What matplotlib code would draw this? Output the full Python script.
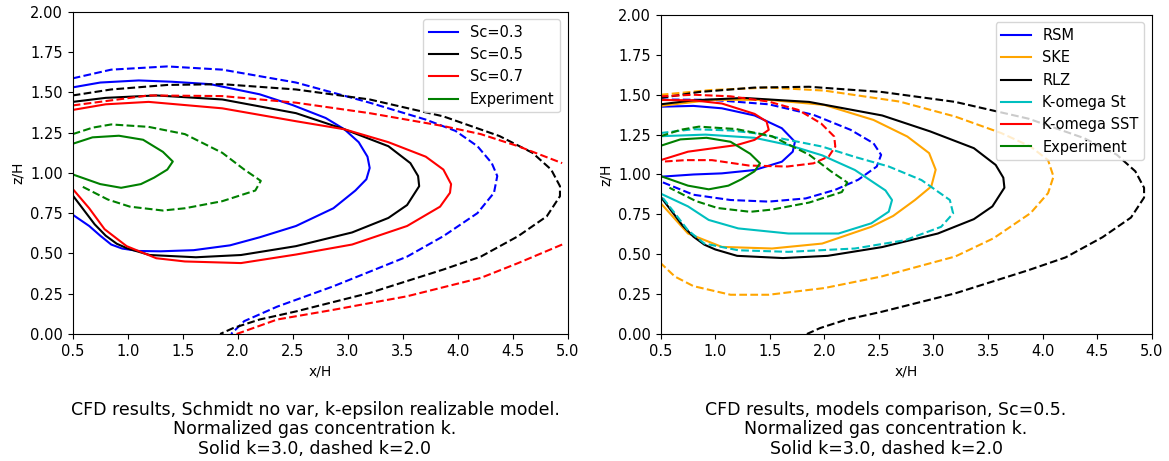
import matplotlib
matplotlib.use("Agg")
import matplotlib.pyplot as plt

# contour lines, (x/H, z/H) pairs
# solid = k=3.0, dashed = k=2.0

sc03_k3 = [(0.5, 1.53), (0.75, 1.56), (1.1, 1.573), (1.4, 1.565), (1.75, 1.55), (2.2, 1.487),
           (2.5, 1.42), (2.8, 1.34), (2.97, 1.27), (3.1, 1.19), (3.18, 1.10), (3.2, 1.03),
           (3.17, 0.96), (3.07, 0.89), (2.87, 0.78), (2.53, 0.67), (2.2, 0.60), (1.93, 0.55),
           (1.6, 0.52), (1.3, 0.513), (1.1, 0.515), (0.95, 0.53), (0.85, 0.555), (0.75, 0.61),
           (0.65, 0.67), (0.5, 0.74)]
sc05_k3 = [(0.5, 1.44), (0.8, 1.465), (1.26, 1.48), (1.86, 1.455), (2.53, 1.37), (2.97, 1.27),
           (3.37, 1.165), (3.57, 1.06), (3.64, 0.98), (3.65, 0.917), (3.54, 0.80), (3.37, 0.72),
           (3.04, 0.63), (2.53, 0.545), (2.03, 0.49), (1.62, 0.476), (1.2, 0.49), (1.0, 0.53),
           (0.9, 0.56), (0.8, 0.61), (0.7, 0.68), (0.6, 0.77), (0.5, 0.86)]
sc07_k3 = [(0.5, 1.39), (0.8, 1.425), (1.19, 1.44), (1.86, 1.40), (2.53, 1.32), (2.97, 1.27),
           (3.37, 1.19), (3.71, 1.10), (3.87, 1.02), (3.94, 0.93), (3.93, 0.876), (3.84, 0.79),
           (3.54, 0.67), (3.04, 0.555), (2.53, 0.493), (2.03, 0.44), (1.52, 0.45), (1.26, 0.47),
           (0.99, 0.545), (0.79, 0.65), (0.65, 0.78), (0.5, 0.90)]
exp_k3 = [(0.5, 1.18), (0.68, 1.22), (0.92, 1.23), (1.14, 1.205), (1.32, 1.13), (1.41, 1.07),
          (1.36, 1.02), (1.24, 0.97), (1.12, 0.93), (0.94, 0.907), (0.75, 0.93), (0.5, 0.99)]

sc03_k2 = [(0.5, 1.586), (0.85, 1.64), (1.36, 1.66), (1.86, 1.64), (2.53, 1.56), (3.2, 1.435),
           (3.71, 1.33), (3.98, 1.26), (4.18, 1.165), (4.31, 1.06), (4.36, 0.98), (4.33, 0.876),
           (4.18, 0.75), (3.87, 0.607), (3.54, 0.48), (2.87, 0.296), (2.36, 0.17), (2.06, 0.08),
           (1.94, 0.0)]
sc05_k2 = [(0.5, 1.48), (0.85, 1.517), (1.36, 1.545), (1.86, 1.55), (2.53, 1.517), (3.2, 1.455),
           (3.87, 1.35), (4.38, 1.228), (4.68, 1.124), (4.85, 1.02), (4.93, 0.917), (4.93, 0.855),
           (4.81, 0.73), (4.55, 0.607), (4.21, 0.48), (3.87, 0.40), (3.2, 0.255), (2.53, 0.14),
           (2.2, 0.09), (1.96, 0.037), (1.84, 0.0)]
sc07_k2_top = [(0.5, 1.418), (1.19, 1.48), (1.86, 1.476), (2.53, 1.435), (3.2, 1.37),
               (3.87, 1.29), (4.21, 1.24), (4.55, 1.165), (4.95, 1.06)]
sc07_k2_bot = [(4.95, 0.555), (4.55, 0.44), (4.21, 0.348), (3.54, 0.234), (2.87, 0.15),
               (2.36, 0.09), (1.99, 0.0)]
exp_k2 = [(0.5, 1.24), (0.68, 1.28), (0.85, 1.30), (1.19, 1.285), (1.52, 1.24), (1.86, 1.124),
          (2.06, 1.02), (2.21, 0.95), (2.16, 0.89), (1.86, 0.824), (1.52, 0.78), (1.32, 0.766),
          (1.02, 0.79), (0.82, 0.834), (0.58, 0.917)]

rsm_k3 = [(0.5, 1.425), (0.8, 1.43), (1.06, 1.415), (1.36, 1.37), (1.61, 1.29), (1.73, 1.205),
          (1.71, 1.143), (1.61, 1.08), (1.36, 1.028), (1.06, 1.007), (0.8, 1.0), (0.5, 0.986)]
rsm_k2 = [(0.5, 1.47), (0.97, 1.468), (1.49, 1.44), (1.9, 1.374), (2.24, 1.28), (2.45, 1.196),
          (2.52, 1.123), (2.48, 1.05), (2.31, 0.967), (2.1, 0.904), (1.83, 0.85), (1.49, 0.83),
          (1.14, 0.84), (0.8, 0.873), (0.5, 0.956)]
ske_k3 = [(0.5, 1.43), (0.97, 1.468), (1.49, 1.468), (2.0, 1.436), (2.45, 1.342), (2.76, 1.238),
          (2.96, 1.134), (3.02, 1.03), (2.98, 0.925), (2.83, 0.84), (2.63, 0.74), (2.43, 0.672),
          (1.98, 0.567), (1.52, 0.536), (1.06, 0.546), (0.75, 0.63), (0.5, 0.82)]
ske_k2 = [(0.5, 1.50), (0.97, 1.53), (1.49, 1.545), (2.0, 1.526), (2.69, 1.457), (3.2, 1.363),
          (3.62, 1.26), (3.89, 1.175), (4.05, 1.09), (4.1, 0.987), (4.05, 0.883), (3.89, 0.758),
          (3.55, 0.60), (3.2, 0.486), (2.52, 0.36), (2.0, 0.288), (1.49, 0.246), (1.14, 0.246),
          (0.8, 0.30), (0.63, 0.36), (0.5, 0.444)]
kst_k3 = [(0.5, 1.24), (0.91, 1.25), (1.36, 1.23), (1.67, 1.185), (1.98, 1.12), (2.28, 1.028),
          (2.56, 0.90), (2.62, 0.84), (2.59, 0.767), (2.43, 0.694), (2.13, 0.63), (1.67, 0.63),
          (1.21, 0.662), (0.94, 0.715), (0.75, 0.80), (0.5, 0.88)]
kst_k2 = [(0.5, 1.26), (0.8, 1.284), (1.14, 1.276), (1.36, 1.259), (1.67, 1.217), (1.98, 1.175),
          (2.28, 1.11), (2.59, 1.05), (2.89, 0.965), (3.15, 0.84), (3.18, 0.756), (3.07, 0.672),
          (2.74, 0.588), (2.28, 0.536), (1.67, 0.515), (1.21, 0.525), (0.9, 0.567), (0.75, 0.65),
          (0.63, 0.756), (0.5, 0.87)]
sst_k3 = [(0.5, 1.467), (0.8, 1.465), (1.06, 1.445), (1.36, 1.38), (1.47, 1.332), (1.49, 1.28),
          (1.36, 1.217), (1.2, 1.185), (0.75, 1.143), (0.5, 1.09)]
sst_k2 = [(0.5, 1.49), (0.8, 1.50), (1.14, 1.49), (1.49, 1.457), (1.76, 1.405), (1.97, 1.32),
          (2.09, 1.238), (2.1, 1.175), (2.04, 1.113), (1.9, 1.07), (1.66, 1.05), (1.31, 1.056),
          (0.97, 1.09), (0.73, 1.09), (0.5, 1.08)]

left_sets = [("Sc=0.3", "blue", sc03_k3, [sc03_k2]),
             ("Sc=0.5", "black", sc05_k3, [sc05_k2]),
             ("Sc=0.7", "red", sc07_k3, [sc07_k2_top, sc07_k2_bot]),
             ("Experiment", "green", exp_k3, [exp_k2])]
right_sets = [("RSM", "blue", rsm_k3, [rsm_k2]),
              ("SKE", "orange", ske_k3, [ske_k2]),
              ("RLZ", "black", sc05_k3, [sc05_k2]),
              ("K-omega St", "c", kst_k3, [kst_k2]),
              ("K-omega SST", "red", sst_k3, [sst_k2]),
              ("Experiment", "green", exp_k3, [exp_k2])]

captions = ["CFD results, Schmidt no var, k-epsilon realizable model.\n"
            "Normalized gas concentration k.\nSolid k=3.0, dashed k=2.0",
            "CFD results, models comparison, Sc=0.5.\n"
            "Normalized gas concentration k.\nSolid k=3.0, dashed k=2.0"]

fig = plt.figure(figsize=(11.69, 4.61), dpi=100)
ax1 = fig.add_axes([0.0622, 0.2755, 0.4234, 0.6993])
ax2 = fig.add_axes([0.5652, 0.2755, 0.4200, 0.6920])

for ax, sets in [(ax1, left_sets), (ax2, right_sets)]:
    for name, col, solid, dashed in sets:
        xs, zs = zip(*solid)
        ax.plot(xs, zs, color=col, lw=1.5, label=name)
        for d in dashed:
            xs, zs = zip(*d)
            ax.plot(xs, zs, color=col, lw=1.5, ls="--")
    ax.set_xlim(0.5, 5.0)
    ax.set_ylim(0.0, 2.0)
    ax.set_xticks([0.5, 1.0, 1.5, 2.0, 2.5, 3.0, 3.5, 4.0, 4.5, 5.0])
    ax.set_yticks([0.0, 0.25, 0.5, 0.75, 1.0, 1.25, 1.5, 1.75, 2.0])
    ax.yaxis.set_major_formatter(plt.FormatStrFormatter("%.2f"))
    ax.tick_params(labelsize=10.5)
    ax.set_xlabel("x/H", fontsize=10)
    ax.set_ylabel("z/H", fontsize=10)
    ax.legend(loc="upper right", fontsize=10.5)

fig.text(315 / 1169, 1 - 401 / 461, captions[0], ha="center", va="top",
         fontsize=12.5, linespacing=1.1, multialignment="center")
fig.text(886 / 1169, 1 - 401 / 461, captions[1], ha="center", va="top",
         fontsize=12.5, linespacing=1.1, multialignment="center")

fig.savefig("out.png", dpi=100)
